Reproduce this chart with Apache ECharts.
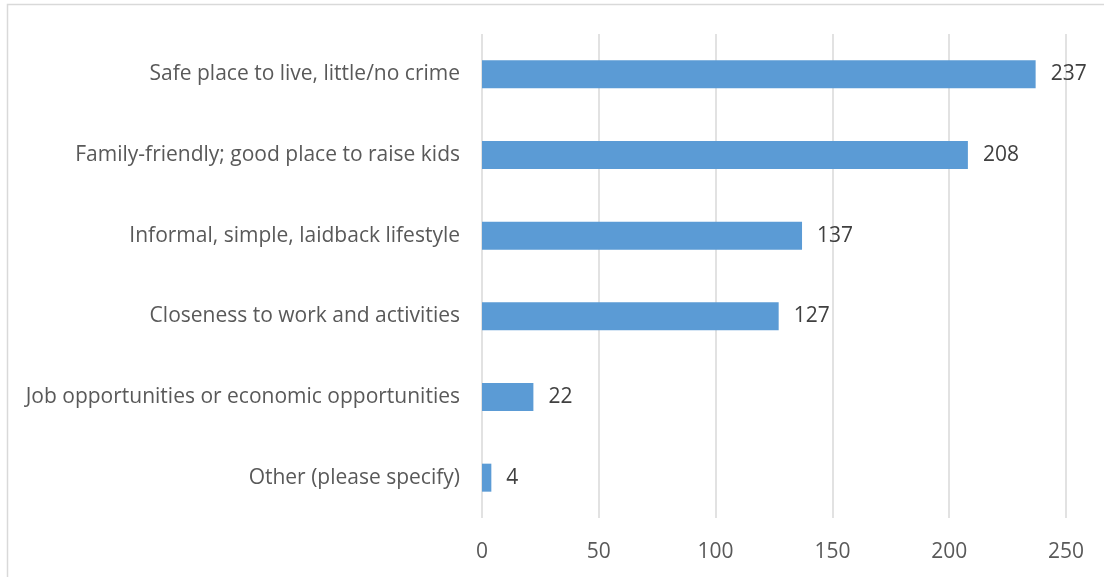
<!DOCTYPE html>
<html>
<head>
<meta charset="utf-8">
<script src="https://cdn.jsdelivr.net/npm/echarts@6/dist/echarts.min.js"></script>
<style>
  html, body { margin: 0; padding: 0; background: #fff; }
  #chart { width: 1104px; height: 577px; }
</style>
</head>
<body>
<div id="chart"></div>
<script>
// Reasons listed, top to bottom
const categories = [
  'Safe place to live, little/no crime',
  'Family-friendly; good place to raise kids',
  'Informal, simple, laidback lifestyle',
  'Closeness to work and activities',
  'Job opportunities or economic opportunities',
  'Other (please specify)'
];
const counts = [237, 208, 137, 127, 22, 4];

const FONT = '"Open Sans", sans-serif';

const chart = echarts.init(document.getElementById('chart'), null, { renderer: 'canvas' });
chart.setOption({
  animation: false,
  backgroundColor: '#ffffff',
  graphic: [{
    type: 'rect',
    shape: { x: 7.5, y: 4.5, width: 1200, height: 700 },
    style: { fill: 'none', stroke: '#d9d9d9', lineWidth: 1.5 },
    silent: true
  }],
  grid: { left: 482, right: 38, top: 34, bottom: 59, containLabel: false },
  xAxis: {
    type: 'value',
    min: 0,
    max: 250,
    interval: 50,
    axisLine: { show: false },
    axisTick: { show: false },
    splitLine: { show: true, lineStyle: { color: '#d9d9d9', width: 1.5 } },
    axisLabel: { color: '#595959', fontSize: 21, fontFamily: FONT, margin: 24 }
  },
  yAxis: {
    type: 'category',
    data: categories,
    inverse: true,
    axisLine: { show: false },
    axisTick: { show: false },
    axisLabel: { color: '#595959', fontSize: 21, fontFamily: FONT, margin: 22, padding: [3, 0, 0, 0] }
  },
  series: [{
    type: 'bar',
    data: counts,
    barWidth: 28,
    itemStyle: { color: '#5b9bd5' },
    label: {
      show: true,
      position: 'right',
      distance: 15,
      color: '#404040',
      fontSize: 21,
      fontFamily: FONT,
      padding: [3, 0, 0, 0]
    }
  }]
});
</script>
</body>
</html>
